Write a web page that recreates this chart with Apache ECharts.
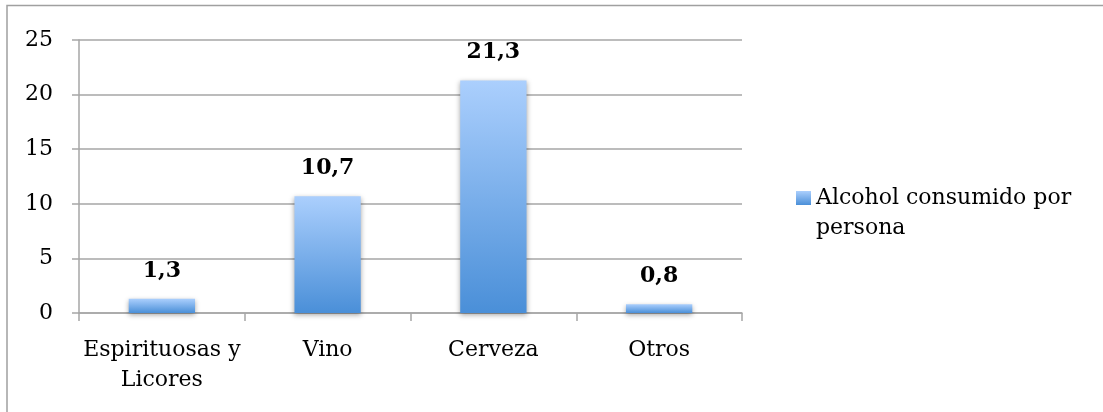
<!DOCTYPE html>
<html>
<head>
<meta charset="utf-8">
<script src="https://cdn.jsdelivr.net/npm/echarts@6/dist/echarts.min.js"></script>
<style>
html,body{margin:0;padding:0;background:#fff;}
#c{width:1103px;height:412px;}
</style>
</head>
<body>
<div id="c"></div>
<script>
const categories = ['Espirituosas y\nLicores', 'Vino', 'Cerveza', 'Otros'];
const values = [1.3, 10.7, 21.3, 0.8];
const seriesName = 'Alcohol consumido por persona';
const legendLines = ['Alcohol consumido por', 'persona'];
const yTicks = {min: 0, max: 25, interval: 5};

const FONT = 'DejaVu Serif';
const FS = 22;
const LH = 30;
const chart = echarts.init(document.getElementById('c'), null, {renderer: 'canvas'});
chart.setOption({
  animation: false,
  backgroundColor: '#fff',
  graphic: [{
    type: 'polyline',
    shape: {points: [[7, 600], [7, 5.5], [1300, 5.5]]},
    style: {fill: null, stroke: '#a0a0a0', lineWidth: 1.5},
    silent: true, z: -1
  }],
  grid: {left: 79, right: 361, top: 40, bottom: 99, containLabel: false},
  legend: {
    orient: 'vertical',
    left: 791, top: 152,
    itemWidth: 15, itemHeight: 14, itemGap: 0,
    icon: 'rect',
    formatter: () => '{e| }\n' + legendLines.map(s => '{a|' + s + '}').join('\n'),
    textStyle: {
      fontFamily: FONT, fontSize: FS, color: '#000',
      rich: {
        e: {fontFamily: FONT, fontSize: FS, lineHeight: LH},
        a: {fontFamily: FONT, fontSize: FS, lineHeight: LH, color: '#000'}
      }
    },
    data: [seriesName]
  },
  xAxis: {
    type: 'category',
    data: categories,
    axisLine: {lineStyle: {color: '#a6a6a6', width: 1.5}},
    axisTick: {show: true, length: 8, lineStyle: {color: '#a6a6a6', width: 1.5}},
    axisLabel: {fontFamily: FONT, fontSize: FS, color: '#000', lineHeight: LH, margin: 22, interval: 0}
  },
  yAxis: {
    type: 'value',
    min: yTicks.min, max: yTicks.max, interval: yTicks.interval,
    axisLine: {show: true, lineStyle: {color: '#a6a6a6', width: 1.5}},
    axisTick: {show: true, length: 7, lineStyle: {color: '#a6a6a6', width: 1.5}},
    splitLine: {lineStyle: {color: '#a6a6a6', width: 1.5}},
    axisLabel: {fontFamily: FONT, fontSize: FS, color: '#000', margin: 26}
  },
  series: [{
    name: seriesName,
    type: 'bar',
    data: values,
    barCategoryGap: '60%',
    itemStyle: {
      color: new echarts.graphic.LinearGradient(0, 0, 0, 1, [
        {offset: 0, color: '#abcffd'},
        {offset: 1, color: '#4a8fd8'}
      ]),
      shadowColor: 'rgba(0,0,0,0.35)',
      shadowBlur: 5,
      shadowOffsetY: 2
    },
    label: {
      show: true,
      position: 'top',
      distance: 17,
      fontFamily: FONT,
      fontSize: FS,
      fontWeight: 'bold',
      color: '#000',
      formatter: p => String(p.value).replace('.', ',')
    }
  }]
});
</script>
</body>
</html>
